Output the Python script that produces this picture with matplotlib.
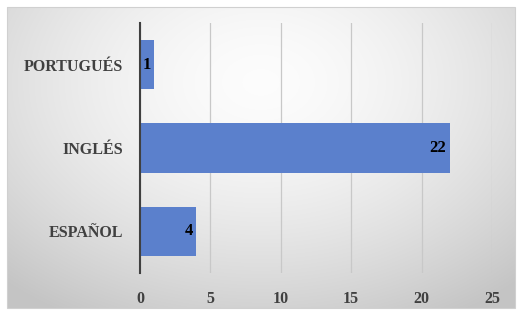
import numpy as np
import matplotlib
matplotlib.use("Agg")
import matplotlib.pyplot as plt
from matplotlib.patches import Rectangle

categories = ["ESPAÑOL", "INGLÉS", "PORTUGUÉS"]
values = [4, 22, 1]
xticks = [0, 5, 10, 15, 20, 25]

W, H = 523, 315
fig = plt.figure(figsize=(W/100, H/100), dpi=100)
fig.patch.set_facecolor("white")

# background gradient panel
bg = fig.add_axes([7/W, 1-308/H, (515-7)/W, (308-7)/H])
yy, xx = np.mgrid[0:1:300j, 0:1:500j]
r = np.sqrt(((xx-0.5)/0.75)**2 + ((yy-0.25)/0.9)**2)
img = 0.99 - 0.22*np.clip(r, 0, 1)**1.6
bg.imshow(np.dstack([img, img, img]), aspect="auto", extent=[0, 1, 0, 1], origin="upper")
bg.set_axis_off()
fig.add_artist(Rectangle((7/W, 1-308/H), (515-7)/W, (308-7)/H, transform=fig.transFigure,
                         fill=False, edgecolor="#d0d0d0", lw=0.8))

ax = fig.add_axes([140/W, 1-273/H, (492-140)/W, (273-23)/H])
ax.patch.set_alpha(0)
y = np.arange(len(categories))
ax.barh(y, values, height=0.59, color="#5b80cc", zorder=3)
ax.set_xlim(0, 25)
ax.set_ylim(-0.5, len(categories)-0.5)
ax.set_xticks(xticks)
ax.set_yticks(y)
ax.set_yticklabels(categories)
ax.grid(axis="x", color="#c8c8c8", lw=0.9, zorder=0)
for s in ["top", "right", "bottom"]:
    ax.spines[s].set_visible(False)
ax.spines["left"].set_color("#404040")
ax.spines["left"].set_linewidth(1.5)
ax.spines["left"].set_zorder(4)
ax.tick_params(length=0, colors="#404040")
for lab in ax.get_xticklabels() + ax.get_yticklabels():
    lab.set_fontfamily("Liberation Serif")
    lab.set_fontweight("bold")
    lab.set_fontsize(11.5)
    lab.set_color("#404040")
ax.tick_params(axis="x", pad=13)
ax.tick_params(axis="y", pad=12)
for yi, v in zip(y, values):
    ax.text(v - 0.25, yi, str(v), ha="right", va="center", fontfamily="Liberation Serif",
            fontweight="bold", fontsize=12, color="black", zorder=5)

fig.savefig("out.png", dpi=100)
